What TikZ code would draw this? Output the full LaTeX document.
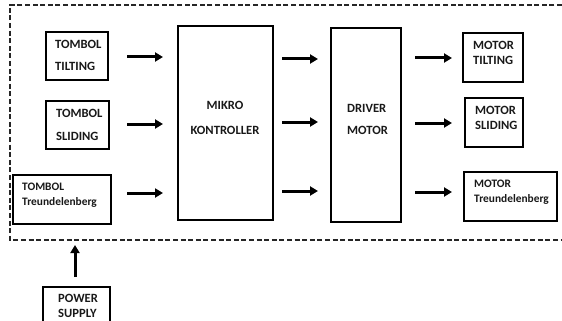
\documentclass[tikz,border=0pt]{standalone}
\usepackage{fontspec}
\setmainfont{Carlito}
\usetikzlibrary{arrows.meta}

\tikzset{
  blk/.style={draw=black, line width=2.4pt, inner sep=0pt, fill=none},
  lbl/.style={font=\fontsize{12.6}{14}\selectfont\bfseries, inner sep=0pt, anchor=west, text=black!90},
  lbls/.style={lbl, font=\fontsize{11.4}{13}\selectfont\bfseries},
  lblc/.style={lbl, anchor=center},
  arr/.style={line width=3pt, -{Triangle[length=8pt,width=9pt]}},
  frame/.style={draw=black!85, line width=1.6pt, dash pattern=on 5pt off 2.6pt}
}

\begin{document}
\begin{tikzpicture}[x=1pt, y=-1pt]
\useasboundingbox (0,0) rectangle (562,321);
\clip (0,0) rectangle (562,321);
\fill[white] (0,0) rectangle (562,321);

% system boundary (runs off the right edge)
\draw[frame] (600,5) -- (10,5) -- (10,240) -- (600,240);

% input buttons
\node[blk, minimum width=62pt, minimum height=48pt] (tt) at (77,56) {};
\node[blk, minimum width=63pt, minimum height=48pt] (ts) at (77.5,125) {};
\node[blk, minimum width=98pt, minimum height=49pt] (tr) at (62,199.5) {};
\node[lbl] (tt1) at (55,44) {TOMBOL};
\node[lbl] (tt2) at (55,66) {TILTING};
\node[lbl] (ts1) at (56,113) {TOMBOL};
\node[lbl] (ts2) at (56,136) {SLIDING};
\node[lbls] (tr1) at (22,187) {TOMBOL};
\node[lbls] (tr2) at (22,202) {Treundelenberg};

% controller and driver
\node[blk, minimum width=95pt, minimum height=194pt] (mk) at (225.5,123) {};
\node[lblc] (mk1) at (225,105) {MIKRO};
\node[lblc] (mk2) at (225,130) {KONTROLLER};
\node[blk, minimum width=70pt, minimum height=194pt] (dm) at (366,125) {};
\node[lbl] (dm1) at (347,108) {DRIVER};
\node[lbl] (dm2) at (347,130) {MOTOR};

% motors
\node[blk, minimum width=60pt, minimum height=49pt] (mt) at (493,57.5) {};
\node[blk, minimum width=58pt, minimum height=49pt] (ms) at (494,122.5) {};
\node[blk, minimum width=93pt, minimum height=49pt] (mtr) at (510.5,196.5) {};
\node[lbl] (mt1) at (473,45) {MOTOR};
\node[lbl] (mt2) at (473,60) {TILTING};
\node[lbl] (ms1) at (475,110) {MOTOR};
\node[lbl] (ms2) at (475,125) {SLIDING};
\node[lbls] (mtr1) at (474,184) {MOTOR};
\node[lbls] (mtr2) at (474,199) {Treundelenberg};

% power supply (box runs off the bottom edge)
\node[blk, minimum width=67pt, minimum height=60pt] (ps) at (76.5,317) {};
\node[lbl] (ps1) at (58,298) {POWER};
\node[lbl] (ps2) at (58,313) {SUPPLY};

% arrow end points
\coordinate (a1s) at (127,57);  \coordinate (a1e) at (163,57);
\coordinate (a2s) at (127,124); \coordinate (a2e) at (163,124);
\coordinate (a3s) at (127,193); \coordinate (a3e) at (163,193);
\coordinate (b1s) at (282,59);  \coordinate (b1e) at (318,59);
\coordinate (b2s) at (282,122); \coordinate (b2e) at (318,122);
\coordinate (b3s) at (282,191); \coordinate (b3e) at (318,191);
\coordinate (c1s) at (415,58);  \coordinate (c1e) at (452,58);
\coordinate (c2s) at (415,123); \coordinate (c2e) at (452,123);
\coordinate (c3s) at (415,192); \coordinate (c3e) at (452,192);
\coordinate (ptop) at (75,245);
\coordinate (pbot) at (75,277);

\draw[arr] (a1s) -- (a1e);
\draw[arr] (a2s) -- (a2e);
\draw[arr] (a3s) -- (a3e);
\draw[arr] (b1s) -- (b1e);
\draw[arr] (b2s) -- (b2e);
\draw[arr] (b3s) -- (b3e);
\draw[arr] (c1s) -- (c1e);
\draw[arr] (c2s) -- (c2e);
\draw[arr] (c3s) -- (c3e);
\draw[arr] (pbot) -- (ptop);
\end{tikzpicture}
\end{document}
